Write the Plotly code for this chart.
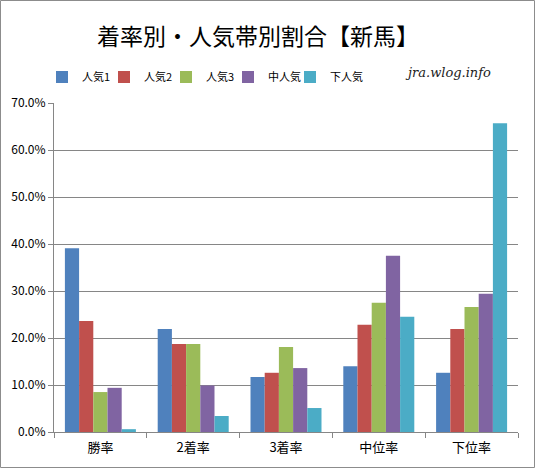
import plotly.graph_objects as go

categories = ["勝率", "2着率", "3着率", "中位率", "下位率"]
series_names = ["人気1", "人気2", "人気3", "中人気", "下人気"]
ninki1 = [0.391, 0.219, 0.117, 0.140, 0.126]
ninki2 = [0.236, 0.187, 0.126, 0.228, 0.219]
ninki3 = [0.085, 0.187, 0.181, 0.275, 0.266]
naka_ninki = [0.094, 0.099, 0.136, 0.375, 0.294]
shita_ninki = [0.006, 0.034, 0.051, 0.245, 0.657]
y_ticks = [0, 0.1, 0.2, 0.3, 0.4, 0.5, 0.6, 0.7]

colors = ["#4F81BD", "#C0504D", "#9BBB59", "#8064A2", "#4BACC6"]
all_values = [ninki1, ninki2, ninki3, naka_ninki, shita_ninki]

W, H = 535, 468
ML, MR, MT, MB = 54, 17, 103, 36
FONT = "Noto Sans CJK JP"

fig = go.Figure()
for name, vals, col in zip(series_names, all_values, colors):
    fig.add_bar(x=categories, y=vals, name=name, marker_color=col,
                marker_line_width=0)
# empty legend slot so the last legend label isn't clipped
fig.add_scatter(x=[None], y=[None], name=" ", mode="markers",
                marker=dict(color="rgba(0,0,0,0)"), hoverinfo="skip")

# outer border of the chart, in paper coords
pw = W - ML - MR
ph = H - MT - MB
fig.add_shape(type="rect", xref="paper", yref="paper",
              x0=(0.5 - ML) / pw, x1=(W - 0.5 - ML) / pw,
              y0=(0.5 - MB) / ph, y1=(H - MB - 0.5) / ph,
              line=dict(color="#8c8c8c", width=1))

fig.add_annotation(text="jra.wlog.info", xref="paper", yref="paper",
                   x=(448 - ML) / pw, y=(H - MB - 73) / ph,
                   xanchor="center", yanchor="middle", showarrow=False,
                   font=dict(family="DejaVu Serif", size=13, color="#222",
                             style="italic"))

fig.update_layout(
    width=W, height=H,
    margin=dict(l=ML, r=MR, t=MT, b=MB, autoexpand=False),
    paper_bgcolor="white", plot_bgcolor="white",
    barmode="group", bargap=0.235, bargroupgap=0,
    font=dict(family=FONT, color="#000"),
    title=dict(text="着率別・人気帯別割合【新馬】", x=258 / W, xanchor="center",
               y=1 - 37 / H, yanchor="middle",
               font=dict(size=23, family=FONT, color="#000")),
    legend=dict(orientation="h", xref="container", yref="container",
                x=42 / W, xanchor="left", y=1 - 77 / H, yanchor="middle",
                font=dict(size=11, family=FONT), itemwidth=30,
                entrywidth=17, entrywidthmode="pixels",
                traceorder="normal"),
    xaxis=dict(showline=True, linecolor="#868686", linewidth=1,
               ticks="outside", tickson="boundaries", ticklen=5,
               tickcolor="#868686", tickfont=dict(size=13, color="#000"),
               ticklabelstandoff=3, showgrid=False),
    yaxis=dict(range=[0, 0.7], tickvals=y_ticks, tickformat=".1%",
               showline=True, linecolor="#868686", linewidth=1,
               gridcolor="#868686", gridwidth=1, ticks="outside",
               ticklen=5, tickcolor="#868686",
               tickfont=dict(size=12, color="#000"), zeroline=False),
)

fig.write_html("out.html", config={"displayModeBar": False},
               post_script="document.body.style.margin='0';")
